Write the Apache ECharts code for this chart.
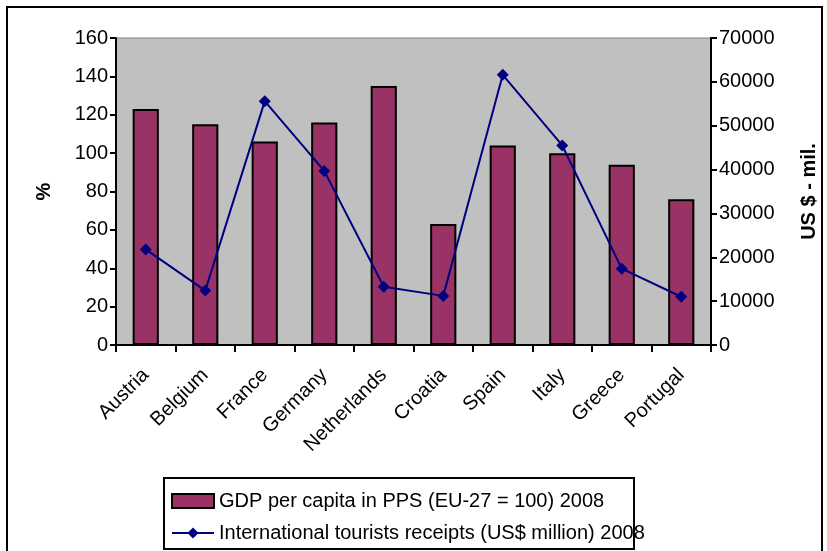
<!DOCTYPE html>
<html><head><meta charset="utf-8">
<script src="https://cdn.jsdelivr.net/npm/echarts@6/dist/echarts.min.js"></script>
<style>html,body{margin:0;padding:0;background:#fff}#c{width:827px;height:551px}</style>
</head><body><div id="c"></div>
<script>
const categories = ["Austria","Belgium","France","Germany","Netherlands","Croatia","Spain","Italy","Greece","Portugal"];
const gdpValues = [123, 115, 106, 116, 135, 63, 104, 100, 94, 76];
const receiptsValues = [21800, 12400, 55600, 39700, 13300, 11200, 61600, 45500, 17400, 11000];
const leftTicks = {min: 0, max: 160, interval: 20};
const rightTicks = {min: 0, max: 70000, interval: 10000};
const gdpName = "GDP per capita in PPS (EU-27 = 100) 2008";
const receiptsName = "International tourists receipts (US$ million) 2008";

const chart = echarts.init(document.getElementById('c'));
const font = "Liberation Sans, Arial, sans-serif";
chart.setOption({
  animation: false,
  textStyle: {fontFamily: font},
  grid: {left: 116, right: 114, top: 38, bottom: 206, show: true, backgroundColor: '#C0C0C0', borderColor: '#808080', borderWidth: 1},
  graphic: [
    {type: 'rect', shape: {x: 7, y: 7, width: 815, height: 560}, style: {fill: 'none', stroke: '#000', lineWidth: 2}, z: -1},
    {type: 'rect', shape: {x: 164, y: 478, width: 470, height: 71}, style: {fill: '#fff', stroke: '#000', lineWidth: 2}, z: 0}
  ],
  legend: {
    orient: 'vertical', left: 166, top: 486, itemGap: 12, itemWidth: 42, itemHeight: 14,
    textStyle: {fontSize: 20, color: '#000', fontFamily: font},
    data: [
      {name: gdpName, icon: 'rect'},
      {name: receiptsName}
    ],
    z: 5
  },
  xAxis: {
    type: 'category', data: categories, boundaryGap: true,
    axisLine: {lineStyle: {color: '#000', width: 2}},
    axisTick: {show: true, length: 7, inside: false, lineStyle: {color: '#000', width: 2}},
    axisLabel: {rotate: 45, fontSize: 20, color: '#000', margin: 27, interval: 0},
    splitLine: {show: false}
  },
  yAxis: [
    {
      type: 'value', min: leftTicks.min, max: leftTicks.max, interval: leftTicks.interval, position: 'left',
      name: '%', nameLocation: 'middle', nameRotate: 90, nameGap: 62,
      nameTextStyle: {fontSize: 20, fontWeight: 'bold', color: '#000'},
      axisLine: {show: true, lineStyle: {color: '#000', width: 2}},
      axisTick: {show: true, length: 6, lineStyle: {color: '#000', width: 2}},
      axisLabel: {fontSize: 20, color: '#000', margin: 8},
      splitLine: {show: false}
    },
    {
      type: 'value', min: rightTicks.min, max: rightTicks.max, interval: rightTicks.interval, position: 'right',
      name: 'US $ - mil.', nameLocation: 'middle', nameRotate: 90, nameGap: 88,
      nameTextStyle: {fontSize: 20, fontWeight: 'bold', color: '#000'},
      axisLine: {show: true, lineStyle: {color: '#000', width: 2}},
      axisTick: {show: true, length: 6, lineStyle: {color: '#000', width: 2}},
      axisLabel: {fontSize: 20, color: '#000', margin: 8, formatter: v => String(v)},
      splitLine: {show: false}
    }
  ],
  series: [
    {
      name: gdpName, type: 'bar', data: gdpValues, yAxisIndex: 0, barWidth: '44%',
      itemStyle: {color: '#993366', borderColor: '#000', borderWidth: 2}
    },
    {
      name: receiptsName, type: 'line', data: receiptsValues, yAxisIndex: 1,
      symbol: 'diamond', symbolSize: 12,
      lineStyle: {color: '#000080', width: 2},
      itemStyle: {color: '#000080'}
    }
  ]
});
</script></body></html>
